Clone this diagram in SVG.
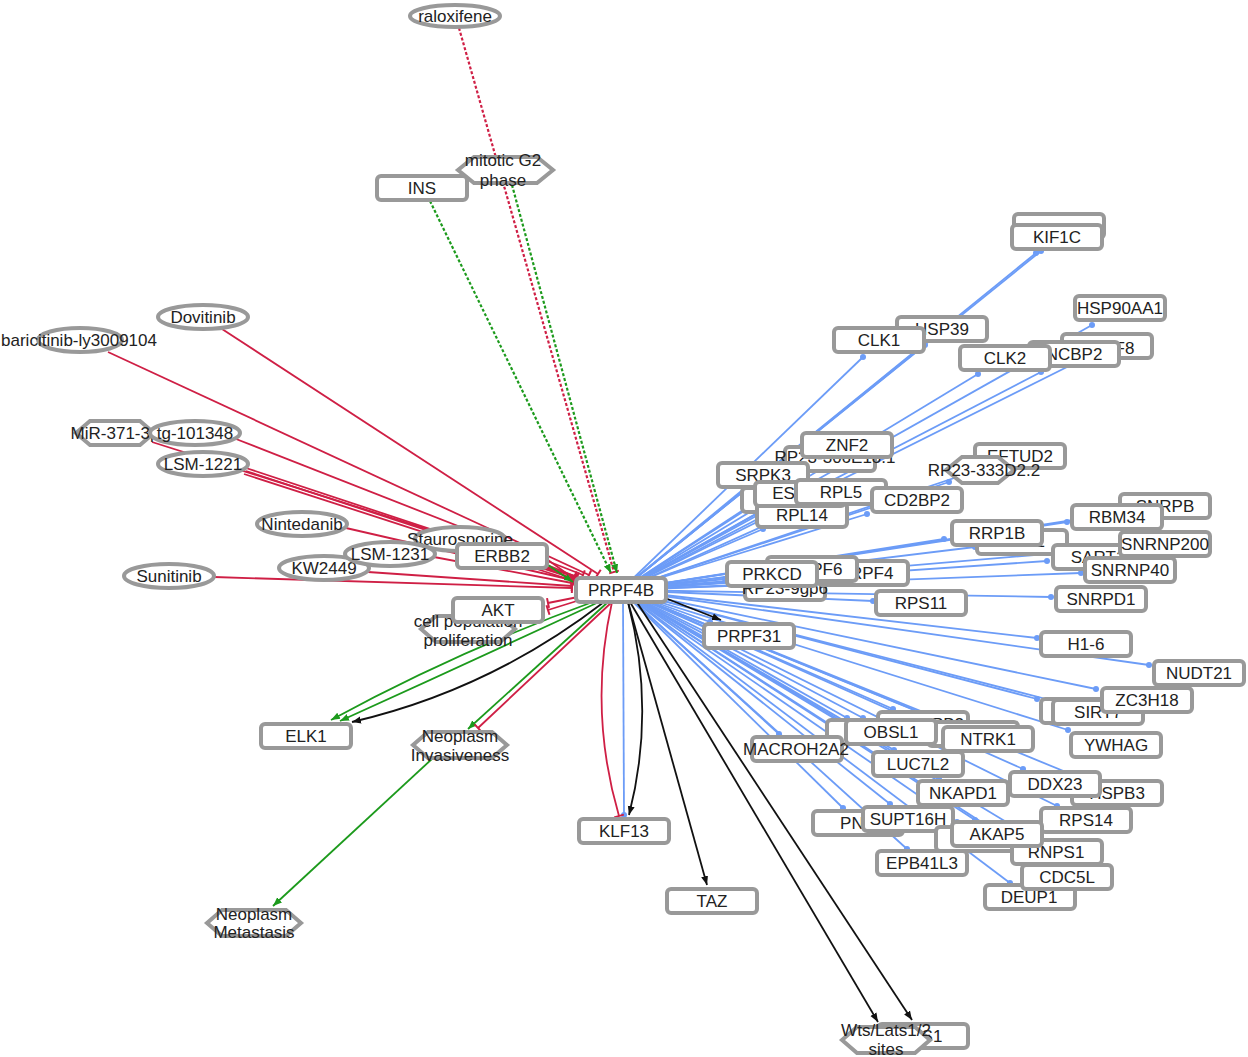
<svg xmlns="http://www.w3.org/2000/svg" width="1248" height="1057" viewBox="0 0 1248 1057">
<defs>
<style>
.n rect,.n ellipse,.n polygon{fill:#fff;stroke:#999;stroke-width:4}
.n rect{rx:4;ry:4}
text{font-family:"Liberation Sans",Arial,sans-serif;font-size:17px;fill:#222;text-anchor:middle}
.b{stroke:#6c9cf7;stroke-width:1.8;fill:none;marker-end:url(#dot)}
.r{stroke:#cf1f45;stroke-width:1.8;fill:none;marker-end:url(#tr)}
.g{stroke:#1c9a1c;stroke-width:1.8;fill:none;marker-end:url(#ag)}
.k{stroke:#111;stroke-width:1.8;fill:none;marker-end:url(#ak)}
.d{stroke-dasharray:3 2;stroke-width:2.2}
</style>
<marker id="dot" viewBox="-4 -4 8 8" refX="0" refY="0" markerWidth="8" markerHeight="8" markerUnits="userSpaceOnUse"><circle r="3" fill="#6c9cf7"/></marker>
<marker id="ak" viewBox="0 -5 10 10" refX="9" refY="0" markerWidth="10" markerHeight="10" orient="auto" markerUnits="userSpaceOnUse"><path d="M0,-3.5 L9,0 L0,3.5 z" fill="#111"/></marker>
<marker id="ag" viewBox="0 -5 10 10" refX="9" refY="0" markerWidth="10" markerHeight="10" orient="auto" markerUnits="userSpaceOnUse"><path d="M0,-3.5 L9,0 L0,3.5 z" fill="#1c9a1c"/></marker>
<marker id="tr" viewBox="-3 -6 6 12" refX="0" refY="0" markerWidth="6" markerHeight="12" orient="auto" markerUnits="userSpaceOnUse"><path d="M0,-5 V5" stroke="#cf1f45" stroke-width="2"/></marker>
</defs>
<rect width="1248" height="1057" fill="#fff"/>
<g id="connectors">
<path class="b" d="M621,590L1041,251"/><path class="b" d="M621,590L1036,253"/><path class="b" d="M621,590L1092,325"/>
<path class="b" d="M621,590L925,345"/><path class="b" d="M621,590L920,348"/><path class="b" d="M621,590L863,357"/>
<path class="b" d="M621,590L1079,361"/><path class="b" d="M621,590L1041,372"/><path class="b" d="M621,590L978,374"/>
<path class="b" d="M621,590L825,459"/><path class="b" d="M621,590L812,465"/><path class="b" d="M621,590L745,488"/>
<path class="b" d="M621,590L770,506"/><path class="b" d="M621,590L780,503"/><path class="b" d="M621,590L810,505"/>
<path class="b" d="M621,590L763,529"/><path class="b" d="M621,590L867,514"/><path class="b" d="M621,590L978,470"/>
<path class="b" d="M621,590L949,482"/><path class="b" d="M621,590L1118,513"/><path class="b" d="M621,590L1067,522"/>
<path class="b" d="M621,590L944,539"/><path class="b" d="M621,590L975,547"/><path class="b" d="M621,590L1047,561"/>
<path class="b" d="M621,590L1118,548"/><path class="b" d="M621,590L1081,573"/><path class="b" d="M621,590L1051,597"/>
<path class="b" d="M621,590L873,601"/><path class="b" d="M621,590L740,585"/><path class="b" d="M621,590L817,576"/>
<path class="b" d="M621,590L765,572"/><path class="b" d="M621,590L725,579"/><path class="b" d="M621,590L710,622"/>
<path class="b" d="M621,590L1037,638"/><path class="b" d="M621,590L1149,665"/><path class="b" d="M621,590L1037,699"/>
<path class="b" d="M621,590L1050,700"/><path class="b" d="M621,590L1096,689"/><path class="b" d="M621,590L1068,730"/>
<path class="b" d="M621,590L847,718"/><path class="b" d="M621,590L893,709"/><path class="b" d="M621,590L939,720"/>
<path class="b" d="M621,590L953,724"/><path class="b" d="M621,590L863,718"/><path class="b" d="M621,590L779,734"/>
<path class="b" d="M621,590L894,750"/><path class="b" d="M621,590L939,779"/><path class="b" d="M621,590L1083,779"/>
<path class="b" d="M621,590L1023,769"/><path class="b" d="M621,590L843,808"/><path class="b" d="M621,590L890,804"/>
<path class="b" d="M621,590L907,849"/><path class="b" d="M621,590L957,822"/><path class="b" d="M621,590L1057,806"/>
<path class="b" d="M621,590L1033,838"/><path class="b" d="M621,590L975,820"/><path class="b" d="M621,590L1010,883"/>
<path class="b" d="M621,590L1045,863"/><path class="b" d="M623,600L624,815"/>
<path class="r" d="M222,329L598,574"/>
<path class="r" d="M108,352L589,575"/>
<path class="r" d="M236,439L583,575"/>
<path class="r" d="M152,442L575,576"/>
<path class="r" d="M246,468L575,577"/>
<path class="r" d="M246,471L575,579"/>
<path class="r" d="M244,474L574,581"/>
<path class="r" d="M346,528L572,580"/>
<path class="r" d="M500,546L577,577"/>
<path class="r" d="M498,549L576,580"/>
<path class="r" d="M434,557L572,583"/>
<path class="r" d="M368,572L572,586"/>
<path class="r" d="M214,577L572,588"/>
<path class="r" d="M548,560L573,578"/>
<path class="g" d="M548,565L573,582"/>
<path class="r d" d="M459,28L614,572"/>
<path class="g d" d="M430,201L611,573"/>
<path class="g d" d="M512,185L617,573"/>
<path class="r" d="M578,597L548,603"/>
<path class="r" d="M580,600L548,610"/>
<path class="g" d="M598,600Q460,650 331,720"/>
<path class="g" d="M601,601Q470,662 340,721"/>
<path class="k" d="M604,602Q490,690 352,722"/>
<path class="g" d="M608,602L468,729"/>
<path class="r" d="M612,602L478,728"/>
<path class="g" d="M433,758L273,906"/>
<path class="r" d="M612,602Q588,710 619,816"/>
<path class="k" d="M628,602Q656,710 629,815"/>
<path class="k" d="M628,602L707,885"/>
<path class="k" d="M630,602L878,1022"/>
<path class="k" d="M636,601L912,1020"/>
<path class="k" d="M660,596L721,620"/>
</g>
<g id="nodes">
<g id="n-raloxifene" class="n"><ellipse cx="455" cy="16" rx="45" ry="11"/><text x="455" y="22">raloxifene</text></g>
<g id="n-mitotic" class="n"><polygon points="458,170 474,157 537,157 553,170 537,183 474,183"/><text x="503" y="166">mitotic G2</text><text x="503" y="186">phase</text></g>
<g id="n-INS" class="n"><rect x="377" y="176" width="90" height="24"/><text x="422" y="194">INS</text></g>
<g id="n-Dovitinib" class="n"><ellipse cx="203" cy="317" rx="45" ry="12"/><text x="203" y="323">Dovitinib</text></g>
<g id="n-baricitinib" class="n"><ellipse cx="80" cy="340" rx="42" ry="12"/><text x="79" y="346">baricitinib-ly3009104</text></g>
<g id="n-MiR371" class="n"><polygon points="76,433 90,421 140,421 154,433 140,445 90,445"/><text x="115" y="439">MiR-371-3p</text></g>
<g id="n-tg101348" class="n"><ellipse cx="195" cy="433" rx="45" ry="12"/><text x="195" y="439">tg-101348</text></g>
<g id="n-LSM1221" class="n"><ellipse cx="203" cy="464" rx="45" ry="12"/><text x="203" y="470">LSM-1221</text></g>
<g id="n-Nintedanib" class="n"><ellipse cx="302" cy="524" rx="45" ry="12"/><text x="302" y="530">Nintedanib</text></g>
<g id="n-Staurosporine" class="n"><ellipse cx="460" cy="539" rx="45" ry="12"/><text x="460" y="545">Staurosporine</text></g>
<g id="n-KW2449" class="n"><ellipse cx="324" cy="568" rx="45" ry="12"/><text x="324" y="574">KW2449</text></g>
<g id="n-LSM1231" class="n"><ellipse cx="390" cy="554" rx="45" ry="12"/><text x="390" y="560">LSM-1231</text></g>
<g id="n-ERBB2" class="n"><rect x="457" y="544" width="90" height="24"/><text x="502" y="562">ERBB2</text></g>
<g id="n-Sunitinib" class="n"><ellipse cx="169" cy="576" rx="45" ry="12"/><text x="169" y="582">Sunitinib</text></g>
<g id="n-cellpop" class="n"><polygon points="421,629 436,616 500,616 515,629 500,642 436,642"/><text x="468" y="627">cell population</text><text x="468" y="646">proliferation</text></g>
<g id="n-AKT" class="n"><rect x="453" y="598" width="90" height="24"/><text x="498" y="616">AKT</text></g>
<g id="n-ELK1" class="n"><rect x="261" y="724" width="90" height="24"/><text x="306" y="742">ELK1</text></g>
<g id="n-NeoInv" class="n"><polygon points="413,745 428,732 492,732 507,745 492,758 428,758"/><text x="460" y="742">Neoplasm</text><text x="460" y="761">Invasiveness</text></g>
<g id="n-NeoMet" class="n"><polygon points="207,923 222,910 286,910 301,923 286,936 222,936"/><text x="254" y="920">Neoplasm</text><text x="254" y="938">Metastasis</text></g>
<g id="n-KLF13" class="n"><rect x="579" y="819" width="90" height="24"/><text x="624" y="837">KLF13</text></g>
<g id="n-TAZ" class="n"><rect x="667" y="889" width="90" height="24"/><text x="712" y="907">TAZ</text></g>
<g id="n-LATS1" class="n"><rect x="878" y="1024" width="90" height="24"/><text x="917" y="1042">LATS1</text></g>
<g id="n-Wts" class="n"><polygon points="842,1040 857,1027 915,1027 930,1040 915,1053 857,1053"/><text x="886" y="1036">Wts/Lats1/2</text><text x="886" y="1055">sites</text></g>
<g id="n-KIF1Cb" class="n"><rect x="1014" y="214" width="90" height="24"/></g>
<g id="n-KIF1C" class="n"><rect x="1012" y="225" width="90" height="24"/><text x="1057" y="243">KIF1C</text></g>
<g id="n-HSP90AA1" class="n"><rect x="1075" y="296" width="90" height="24"/><text x="1120" y="314">HSP90AA1</text></g>
<g id="n-HSP39" class="n"><rect x="897" y="317" width="90" height="24"/><text x="942" y="335">HSP39</text></g>
<g id="n-CLK1" class="n"><rect x="834" y="328" width="90" height="24"/><text x="879" y="346">CLK1</text></g>
<g id="n-PRPF8" class="n"><rect x="1062" y="334" width="90" height="24"/><text x="1107" y="354">PRPF8</text></g>
<g id="n-NCBP2" class="n"><rect x="1029" y="342" width="90" height="24"/><text x="1074" y="360">NCBP2</text></g>
<g id="n-CLK2" class="n"><rect x="960" y="346" width="90" height="24"/><text x="1005" y="364">CLK2</text></g>
<g id="n-RP23h" class="n"><rect x="785" y="447" width="90" height="24"/><text x="835" y="463">RP23-306E18.1</text></g>
<g id="n-ZNF2" class="n"><rect x="802" y="433" width="90" height="24"/><text x="847" y="451">ZNF2</text></g>
<g id="n-SRPK3" class="n"><rect x="718" y="463" width="90" height="24"/><text x="763" y="481">SRPK3</text></g>
<g id="n-ESb" class="n"><rect x="742" y="488" width="90" height="24"/></g>
<g id="n-RPL14" class="n"><rect x="757" y="503" width="90" height="24"/><text x="802" y="521">RPL14</text></g>
<g id="n-ESRP1" class="n"><rect x="755" y="482" width="90" height="24"/><text x="800" y="499">ESRP1</text></g>
<g id="n-RPL5" class="n"><rect x="796" y="480" width="90" height="24"/><text x="841" y="498">RPL5</text></g>
<g id="n-CD2BP2" class="n"><rect x="872" y="488" width="90" height="24"/><text x="917" y="506">CD2BP2</text></g>
<g id="n-EFTUD2" class="n"><rect x="975" y="444" width="90" height="24"/><text x="1020" y="462">EFTUD2</text></g>
<g id="n-RP23333" class="n"><polygon points="946,470 962,457 998,457 1014,470 998,483 962,483"/><text x="984" y="476">RP23-333D2.2</text></g>
<g id="n-SNRPB" class="n"><rect x="1120" y="494" width="90" height="24"/><text x="1165" y="512">SNRPB</text></g>
<g id="n-RBM34" class="n"><rect x="1072" y="505" width="90" height="24"/><text x="1117" y="523">RBM34</text></g>
<g id="n-SF3B1" class="n"><rect x="977" y="530" width="90" height="24"/><text x="1019" y="547">SF3B1</text></g>
<g id="n-RRP1B" class="n"><rect x="952" y="521" width="90" height="24"/><text x="997" y="539">RRP1B</text></g>
<g id="n-SART1" class="n"><rect x="1053" y="545" width="90" height="24"/><text x="1098" y="563">SART1</text></g>
<g id="n-SNRNP200" class="n"><rect x="1120" y="532" width="90" height="24"/><text x="1165" y="550">SNRNP200</text></g>
<g id="n-SNRNP40" class="n"><rect x="1085" y="558" width="90" height="24"/><text x="1130" y="576">SNRNP40</text></g>
<g id="n-SNRPD1" class="n"><rect x="1056" y="587" width="90" height="24"/><text x="1101" y="605">SNRPD1</text></g>
<g id="n-RPS11" class="n"><rect x="876" y="591" width="90" height="24"/><text x="921" y="609">RPS11</text></g>
<g id="n-RP239gp" class="n"><rect x="745" y="576" width="80" height="24"/><text x="785" y="594">RP23-9gp6</text></g>
<g id="n-PRPF4" class="n"><rect x="818" y="561" width="90" height="24"/><text x="866" y="579">PRPF4</text></g>
<g id="n-PRPF6" class="n"><rect x="767" y="557" width="90" height="24"/><text x="815" y="575">PRPF6</text></g>
<g id="n-PRKCD" class="n"><rect x="727" y="562" width="90" height="24"/><text x="772" y="580">PRKCD</text></g>
<g id="n-PRPF31" class="n"><rect x="704" y="624" width="90" height="24"/><text x="749" y="642">PRPF31</text></g>
<g id="n-H16" class="n"><rect x="1041" y="632" width="90" height="24"/><text x="1086" y="650">H1-6</text></g>
<g id="n-NUDT21" class="n"><rect x="1154" y="661" width="90" height="24"/><text x="1199" y="679">NUDT21</text></g>
<g id="n-SIRT7b" class="n"><rect x="1041" y="699" width="90" height="24"/></g>
<g id="n-SIRT7" class="n"><rect x="1053" y="700" width="90" height="24"/><text x="1098" y="718">SIRT7</text></g>
<g id="n-ZC3H18" class="n"><rect x="1102" y="688" width="90" height="24"/><text x="1147" y="706">ZC3H18</text></g>
<g id="n-YWHAG" class="n"><rect x="1071" y="733" width="90" height="24"/><text x="1116" y="751">YWHAG</text></g>
<g id="n-OBSL1b" class="n"><rect x="827" y="720" width="90" height="24"/></g>
<g id="n-SNRPB2" class="n"><rect x="878" y="712" width="90" height="24"/><text x="930" y="730">SNRPB2</text></g>
<g id="n-NTRK1b" class="n"><rect x="928" y="722" width="90" height="24"/></g>
<g id="n-NTRK1" class="n"><rect x="943" y="727" width="90" height="24"/><text x="988" y="745">NTRK1</text></g>
<g id="n-MACROH2A2" class="n"><rect x="752" y="737" width="90" height="24"/><text x="796" y="755">MACROH2A2</text></g>
<g id="n-OBSL1" class="n"><rect x="846" y="720" width="90" height="24"/><text x="891" y="738">OBSL1</text></g>
<g id="n-LUC7L2" class="n"><rect x="873" y="752" width="90" height="24"/><text x="918" y="770">LUC7L2</text></g>
<g id="n-NKAPD1" class="n"><rect x="918" y="781" width="90" height="24"/><text x="963" y="799">NKAPD1</text></g>
<g id="n-HSPB3" class="n"><rect x="1072" y="781" width="90" height="24"/><text x="1117" y="799">HSPB3</text></g>
<g id="n-DDX23" class="n"><rect x="1010" y="772" width="90" height="24"/><text x="1055" y="790">DDX23</text></g>
<g id="n-PNN" class="n"><rect x="813" y="811" width="90" height="24"/><text x="858" y="829">PNN</text></g>
<g id="n-SUPT16H" class="n"><rect x="863" y="807" width="90" height="24"/><text x="908" y="825">SUPT16H</text></g>
<g id="n-EPB41L3" class="n"><rect x="877" y="851" width="90" height="24"/><text x="922" y="869">EPB41L3</text></g>
<g id="n-AKAP5b" class="n"><rect x="936" y="827" width="90" height="24"/></g>
<g id="n-RNPS1" class="n"><rect x="1012" y="840" width="90" height="24"/><text x="1056" y="858">RNPS1</text></g>
<g id="n-RPS14" class="n"><rect x="1041" y="808" width="90" height="24"/><text x="1086" y="826">RPS14</text></g>
<g id="n-AKAP5" class="n"><rect x="952" y="822" width="90" height="24"/><text x="997" y="840">AKAP5</text></g>
<g id="n-DEUP1" class="n"><rect x="985" y="885" width="90" height="24"/><text x="1029" y="903">DEUP1</text></g>
<g id="n-CDC5L" class="n"><rect x="1022" y="865" width="90" height="24"/><text x="1067" y="883">CDC5L</text></g>
<g id="n-PRPF4B" class="n"><rect x="576" y="578" width="90" height="24"/><text x="621" y="596">PRPF4B</text></g>
</g>
</svg>
